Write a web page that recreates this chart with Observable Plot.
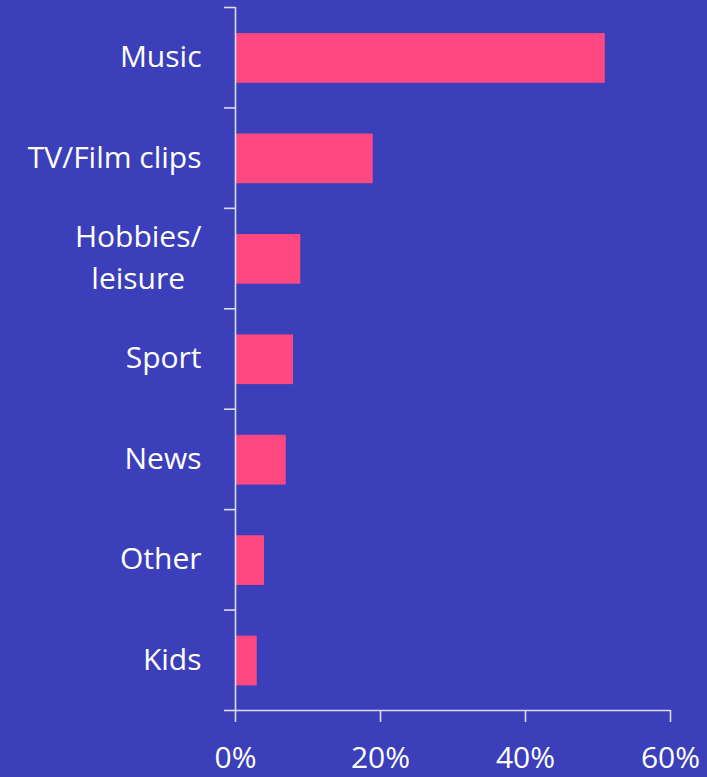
<!DOCTYPE html>
<html>
<head>
<meta charset="utf-8">
<script src="https://cdn.jsdelivr.net/npm/d3@7"></script>
<script src="https://cdn.jsdelivr.net/npm/@observablehq/plot@0.6"></script>
<style>
  html, body { margin: 0; padding: 0; background: #3b3fba; }
  #chart { width: 707px; height: 777px; overflow: hidden; }
</style>
</head>
<body>
<div id="chart"></div>
<script>
const categories = ["Music", "TV/Film clips", "Hobbies/\nleisure", "Sport", "News", "Other", "Kids"];
const values = [51, 19, 9, 8, 7, 4, 3];
const xTicks = [0, 20, 40, 60];
const xTickLabels = ["0%", "20%", "40%", "60%"];

const data = categories.map((c, i) => ({cat: c, value: values[i], i}));
const bounds = d3.range(categories.length + 1);

const axisColor = "#dcdcef";
const font = "'Open Sans', sans-serif";

const plot = Plot.plot({
  width: 707,
  height: 777,
  marginLeft: 235,
  marginRight: 37,
  marginTop: 7,
  marginBottom: 67,
  style: {background: "#3b3fba", color: "white", fontFamily: font, overflow: "visible"},
  x: {type: "linear", domain: [0, 60]},
  y: {type: "linear", domain: [0, categories.length], reverse: true},
  marks: [
    Plot.rect(data, {
      x1: 0, x2: "value",
      y1: d => d.i + 0.26, y2: d => d.i + 0.755,
      fill: "#ff4782"
    }),
    Plot.ruleX([0], {y1: 0, y2: categories.length, stroke: axisColor, strokeWidth: 1.6}),
    Plot.ruleY([categories.length], {x1: 0, x2: 60, stroke: axisColor, strokeWidth: 1.6}),
    Plot.axisY(bounds, {
      anchor: "left", tickSize: 11, tickFormat: () => "", stroke: axisColor, strokeWidth: 1.6, label: null
    }),
    Plot.axisX(xTicks, {
      anchor: "bottom", tickSize: 12, tickPadding: 24, stroke: axisColor, strokeWidth: 1.6,
      tickFormat: (d) => xTickLabels[xTicks.indexOf(d)], fontSize: 30, fill: "white", label: null
    }),
    Plot.text(data, {
      x: 0, y: d => d.i + 0.5, text: "cat", textAnchor: "end", dx: -34, dy: -4,
      fontSize: 30, lineHeight: 1.4, fill: "white"
    })
  ]
});
document.getElementById("chart").appendChild(plot);

// center multi-line labels within their own block (as in the reference)
plot.querySelectorAll("text").forEach(t => {
  const spans = t.querySelectorAll("tspan");
  if (spans.length > 1) {
    let w = 0;
    spans.forEach(s => { w = Math.max(w, s.getComputedTextLength()); });
    t.setAttribute("text-anchor", "middle");
    const tr = t.getAttribute("transform") || "";
    t.setAttribute("transform", tr + ` translate(${-w / 2},0)`);
  }
});
</script>
</body>
</html>
